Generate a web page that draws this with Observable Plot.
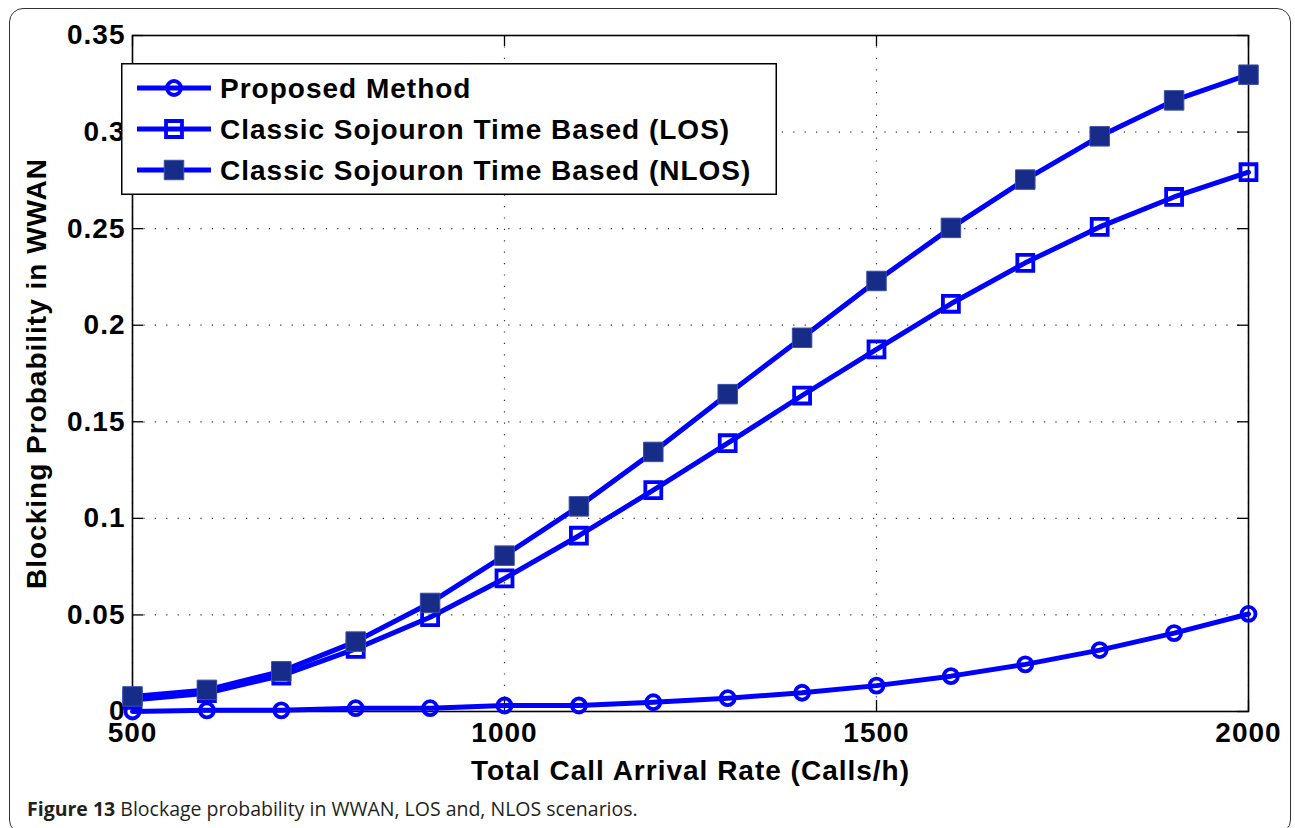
<!DOCTYPE html>
<html>
<head>
<meta charset="utf-8">
<script src="https://cdn.jsdelivr.net/npm/d3@7"></script>
<script src="https://cdn.jsdelivr.net/npm/@observablehq/plot@0.6"></script>
<style>
  html, body { margin: 0; padding: 0; background: #fff; }
  #wrap { position: relative; width: 1295px; height: 828px; overflow: hidden; background: #fff; }
  #border { position: absolute; left: 9px; top: 8px; width: 1282px; height: 826px;
            border: 1.5px solid #333; border-radius: 14px; box-sizing: border-box; }
  #chart { position: absolute; left: 0; top: 0; }
  #legend { position: absolute; left: 121px; top: 63px; }
  #caption { position: absolute; left: 27px; top: 796px; font-family: "Open Sans", sans-serif;
             font-size: 19.5px; color: #231f20; white-space: nowrap; line-height: 26px; }
  #caption b { font-weight: 700; }
</style>
</head>
<body>
<div id="wrap">
  <div id="border"></div>
  <div id="chart"></div>
  <div id="legend"></div>
  <div id="caption"><b>Figure 13</b> Blockage probability in WWAN, LOS and, NLOS scenarios.</div>
</div>
<script>
// Total call arrival rate (calls/h)
const rates = [500, 600, 700, 800, 900, 1000, 1100, 1200, 1300, 1400, 1500, 1600, 1700, 1800, 1900, 2000];

// Blocking probability in WWAN for each scheme
const proposed = [0, 0.0006, 0.0006, 0.0017, 0.0017, 0.0031, 0.0031, 0.0048, 0.0069, 0.0097, 0.0134, 0.0183, 0.0244, 0.0318, 0.0406, 0.0505];
const losClassic = [0.0060, 0.0095, 0.0186, 0.0324, 0.0488, 0.0689, 0.0910, 0.1146, 0.1389, 0.1636, 0.1875, 0.2111, 0.2323, 0.2509, 0.2664, 0.2792];
const nlosClassic = [0.0078, 0.0112, 0.0208, 0.0362, 0.0562, 0.0807, 0.1062, 0.1344, 0.1643, 0.1935, 0.2229, 0.2504, 0.2754, 0.2978, 0.3164, 0.3297];

const seriesNames = ["Proposed Method", "Classic Sojouron Time Based (LOS)", "Classic Sojouron Time Based (NLOS)"];

// Axis ticks and labels
const xTicks = [500, 1000, 1500, 2000];
const yTicks = [0, 0.05, 0.1, 0.15, 0.2, 0.25, 0.3, 0.35];
const yTickLabels = ["0", "0.05", "0.1", "0.15", "0.2", "0.25", "0.3", "0.35"];
const xLabel = "Total Call Arrival Rate (Calls/h)";
const yLabel = "Blocking Probability in WWAN";

// Marker appearance per series
const BLUE = "#0000ff";
const NAVY = "#172b88";
const markerStyles = [
  {symbol: "circle", r: 7, fill: "none", stroke: BLUE, strokeWidth: 3.8},
  {symbol: "square", r: 9, fill: "none", stroke: BLUE, strokeWidth: 3.8},
  {symbol: "square", r: 11, fill: NAVY, stroke: "#3c4fa8", strokeWidth: 1}
];

const seriesValues = [proposed, losClassic, nlosClassic];
const rows = seriesValues.map((vals, s) => rates.map((rate, i) => ({rate, value: vals[i], series: seriesNames[s]})));

const W = 1295, H = 800;
const mL = 132, mR = 47, mT = 35, mB = 89;
const plotW = W - mL - mR, plotH = H - mT - mB;
const tickLen = 11;
const yLabelOf = new Map(yTicks.map((v, i) => [v, yTickLabels[i]]));
const FONT = "'Liberation Sans', Arial, Helvetica, sans-serif";
const textFont = {fontSize: 28, fontWeight: "bold", fontFamily: FONT};

const seriesMarks = rows.flatMap((data, s) => [
  Plot.line(data, {x: "rate", y: "value", stroke: BLUE, strokeWidth: 5, strokeLinejoin: "round"}),
  Plot.dot(data, {x: "rate", y: "value", ...markerStyles[s]})
]);

const chart = Plot.plot({
  width: W, height: H,
  marginLeft: mL, marginRight: mR, marginTop: mT, marginBottom: mB,
  x: {domain: [500, 2000]},
  y: {domain: [0, 0.35]},
  style: {
    fontFamily: FONT,
    fontSize: "28px", fontWeight: "bold", letterSpacing: "1px",
    color: "#000", background: "transparent", overflow: "visible"
  },
  marks: [
    Plot.gridX(xTicks, {stroke: "#333", strokeOpacity: 1, strokeWidth: 1.2, strokeDasharray: "1.2,10.2"}),
    Plot.gridY(yTicks, {stroke: "#333", strokeOpacity: 1, strokeWidth: 1.2, strokeDasharray: "1.2,10.2"}),
    // inward tick marks on all four sides
    Plot.tickX(xTicks, {x: d => d, insetTop: plotH - tickLen, stroke: "#000", strokeWidth: 1.3}),
    Plot.tickX(xTicks, {x: d => d, insetBottom: plotH - tickLen, stroke: "#000", strokeWidth: 1.3}),
    Plot.tickY(yTicks, {y: d => d, insetRight: plotW - tickLen, stroke: "#000", strokeWidth: 1.3}),
    Plot.tickY(yTicks, {y: d => d, insetLeft: plotW - tickLen, stroke: "#000", strokeWidth: 1.3}),
    Plot.frame({stroke: "#000", strokeWidth: 1.6}),
    Plot.axisX(xTicks, {tickSize: 0, tickPadding: 11, tickFormat: d => String(d), label: null, ...textFont}),
    Plot.axisY(yTicks, {tickSize: 0, tickPadding: 7, tickFormat: d => yLabelOf.get(d), label: null, ...textFont}),
    Plot.text([xLabel], {frameAnchor: "bottom", dy: 60, text: d => d, textAnchor: "middle", lineAnchor: "middle", ...textFont}),
    Plot.text([yLabel], {frameAnchor: "left", dx: -95, rotate: -90, text: d => d, textAnchor: "middle", lineAnchor: "middle", ...textFont}),
    ...seriesMarks
  ]
});
document.getElementById("chart").appendChild(chart);

// Legend box drawn over the upper-left of the plot area
const LW = 656, LH = 132;
const rowY = [25, 66, 107];
const legend = d3.select("#legend").append("svg")
  .attr("width", LW).attr("height", LH)
  .style("overflow", "visible");
legend.append("rect")
  .attr("x", 0.75).attr("y", 0.75).attr("width", LW - 1.5).attr("height", LH - 1.5)
  .attr("fill", "#fff").attr("stroke", "#000").attr("stroke-width", 1.5);
seriesNames.forEach((name, s) => {
  const g = legend.append("g").attr("transform", `translate(0,${rowY[s]})`);
  g.append("line").attr("x1", 16).attr("x2", 90).attr("y1", 0).attr("y2", 0)
    .attr("stroke", BLUE).attr("stroke-width", 5);
  const m = markerStyles[s];
  const size = m.r * m.r * Math.PI;
  g.append("path")
    .attr("transform", "translate(53,0)")
    .attr("d", d3.symbol(m.symbol === "circle" ? d3.symbolCircle : d3.symbolSquare, size)())
    .attr("fill", m.fill).attr("stroke", m.stroke).attr("stroke-width", m.strokeWidth);
  g.append("text").attr("x", 99).attr("y", 0).attr("dy", "0.36em")
    .attr("font-family", FONT)
    .attr("font-size", 28).attr("font-weight", "bold").attr("letter-spacing", "1px")
    .attr("fill", "#000").text(name);
});
</script>
</body>
</html>
